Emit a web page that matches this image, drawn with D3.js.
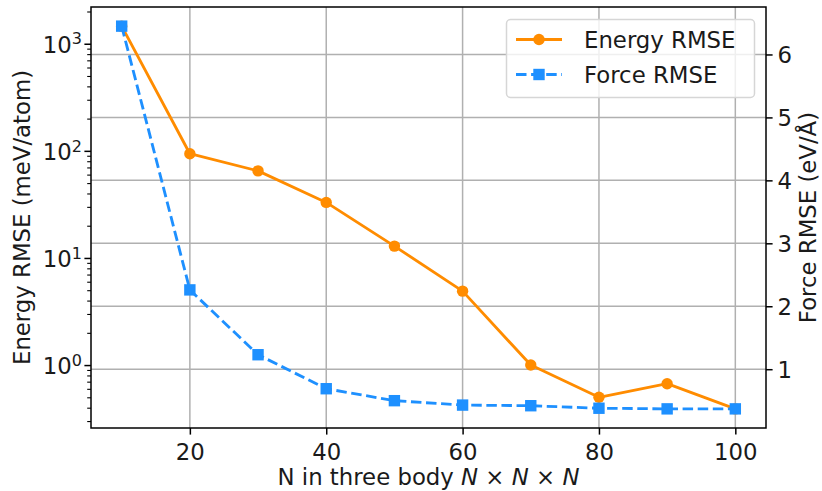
<!DOCTYPE html>
<html><head><meta charset="utf-8">
<script src="https://cdn.jsdelivr.net/npm/d3@7"></script>
<style>
body{margin:0;background:#fff}
svg{display:block;font-family:"DejaVu Sans",sans-serif}
</style>
</head><body>
<svg id="c" width="822" height="491"></svg>
<script>
const nValues = [10, 20, 30, 40, 50, 60, 70, 80, 90, 100];
const energyRMSE = [1460, 94, 65, 33, 12.9, 4.9, 1.0, 0.50, 0.67, 0.39];
const forceRMSE = [6.45, 2.26, 1.23, 0.69, 0.50, 0.43, 0.42, 0.38, 0.37, 0.37];
const xTicks = [20, 40, 60, 80, 100];
const energyTickExps = [0, 1, 2, 3];
const forceTicks = [1, 2, 3, 4, 5, 6];
const seriesNames = ["Energy RMSE", "Force RMSE"];
const xLabel = "N in three body ";
const energyLabel = "Energy RMSE (meV/atom)";
const forceLabel = "Force RMSE (eV/Å)";

const W = 822, H = 491;
const L = 91, R = 766, T = 7, B = 428;
const FS = 22.8;
const orange = "#ff8c00", blue = "#1e90ff";
const svg = d3.select("#c");

// matplotlib-like 5% margins
const xr = d3.extent(nValues), xp = (xr[1]-xr[0])*0.05;
const x = d3.scaleLinear().domain([xr[0]-xp, xr[1]+xp]).range([L, R]);
const le = d3.extent(energyRMSE).map(Math.log10), lp = (le[1]-le[0])*0.05;
const yE = d3.scaleLog().domain([Math.pow(10, le[0]-lp), Math.pow(10, le[1]+lp)]).range([B, T]);
const fe = d3.extent(forceRMSE), fp = (fe[1]-fe[0])*0.05;
const yF = d3.scaleLinear().domain([fe[0]-fp, fe[1]+fp]).range([B, T]);

const grid = svg.append("g").attr("stroke", "#b0b0b0").attr("stroke-width", 1.5);
xTicks.forEach(t => grid.append("line").attr("x1", x(t)).attr("x2", x(t)).attr("y1", T).attr("y2", B));
forceTicks.forEach(t => grid.append("line").attr("x1", L).attr("x2", R).attr("y1", yF(t)).attr("y2", yF(t)));

// axes
const xAxis = d3.axisBottom(x).tickValues(xTicks).tickSize(6.6).tickPadding(6).tickFormat(d3.format("d"));
const gx = svg.append("g").attr("transform", `translate(0,${B})`).call(xAxis);
gx.select(".domain").remove();
gx.selectAll("line").attr("stroke", "#000").attr("stroke-width", 1.5);
gx.selectAll("text").attr("font-size", FS).attr("font-family", "DejaVu Sans").attr("fill", "#1a1a1a").attr("dy", null).attr("y", 31.5);

const majorE = energyTickExps.map(e => Math.pow(10, e));
const minorE = yE.ticks().filter(v => Math.abs(Math.log10(v) - Math.round(Math.log10(v))) > 1e-6);
const gyE = svg.append("g").attr("transform", `translate(${L},0)`)
  .call(d3.axisLeft(yE).tickValues(majorE).tickSize(6.6).tickFormat(""));
gyE.select(".domain").remove();
gyE.selectAll("line").attr("stroke", "#000").attr("stroke-width", 1.5);
const gyEm = svg.append("g").attr("transform", `translate(${L},0)`)
  .call(d3.axisLeft(yE).tickValues(minorE).tickSize(3.8).tickFormat(""));
gyEm.select(".domain").remove();
gyEm.selectAll("line").attr("stroke", "#000").attr("stroke-width", 1.1);
energyTickExps.forEach(e => {
  const t = svg.append("text").attr("x", 82).attr("y", yE(Math.pow(10, e)) + 9.3)
    .attr("text-anchor", "end").attr("font-size", FS).attr("fill", "#1a1a1a");
  t.append("tspan").text("10");
  t.append("tspan").attr("dy", -8.6).attr("font-size", 16).text(String(e));
});

const gyF = svg.append("g").attr("transform", `translate(${R},0)`)
  .call(d3.axisRight(yF).tickValues(forceTicks).tickSize(6.6).tickPadding(5).tickFormat(d3.format("d")));
gyF.select(".domain").remove();
gyF.selectAll("line").attr("stroke", "#000").attr("stroke-width", 1.5);
gyF.selectAll("text").attr("font-size", FS).attr("font-family", "DejaVu Sans").attr("fill", "#1a1a1a").attr("dy", "0.36em");

// lines
const lineE = d3.line().x((d, i) => x(nValues[i])).y(d => yE(d));
const lineF = d3.line().x((d, i) => x(nValues[i])).y(d => yF(d));
svg.append("path").datum(energyRMSE).attr("d", lineE).attr("fill", "none").attr("stroke", orange).attr("stroke-width", 2.85).attr("stroke-linejoin", "round");
svg.append("g").selectAll("circle").data(energyRMSE).join("circle")
  .attr("cx", (d, i) => x(nValues[i])).attr("cy", d => yE(d)).attr("r", 5.7).attr("fill", orange);
svg.append("path").datum(forceRMSE).attr("d", lineF).attr("fill", "none").attr("stroke", blue).attr("stroke-width", 2.85).attr("stroke-dasharray", "10.5,4.6");
svg.append("g").selectAll("rect").data(forceRMSE).join("rect")
  .attr("x", (d, i) => x(nValues[i]) - 5.7).attr("y", d => yF(d) - 5.7).attr("width", 11.4).attr("height", 11.4).attr("fill", blue);

// frame
svg.append("rect").attr("x", L).attr("y", T).attr("width", R-L).attr("height", B-T)
  .attr("fill", "none").attr("stroke", "#000").attr("stroke-width", 1.5);

// axis labels
const xl = svg.append("text").attr("x", (L+R)/2).attr("y", 485).attr("text-anchor", "middle").attr("font-size", FS).attr("fill", "#1a1a1a");
xl.append("tspan").text(xLabel);
xl.append("tspan").attr("font-style", "italic").text("N");
xl.append("tspan").text(" × ");
xl.append("tspan").attr("font-style", "italic").text("N");
xl.append("tspan").text(" × ");
xl.append("tspan").attr("font-style", "italic").text("N");
svg.append("text").attr("transform", `translate(29.5,${(T+B)/2}) rotate(-90)`).attr("text-anchor", "middle")
  .attr("font-size", FS).attr("fill", "#1a1a1a").text(energyLabel);
svg.append("text").attr("transform", `translate(816,${(T+B)/2}) rotate(-90)`).attr("text-anchor", "middle")
  .attr("font-size", FS).attr("fill", "#1a1a1a").text(forceLabel);

// legend
const lg = svg.append("g");
lg.append("rect").attr("x", 506.5).attr("y", 19.5).attr("width", 248).attr("height", 78).attr("rx", 4)
  .attr("fill", "#fff").attr("fill-opacity", 0.8).attr("stroke", "#d6d6d6").attr("stroke-width", 1.5);
const rows = [{name: seriesNames[0], c: orange, y: 39.5, dash: null, shape: "circle"},
              {name: seriesNames[1], c: blue, y: 74.5, dash: "10.5,4.6", shape: "square"}];
rows.forEach(r => {
  lg.append("line").attr("x1", 516).attr("x2", 562).attr("y1", r.y).attr("y2", r.y)
    .attr("stroke", r.c).attr("stroke-width", 2.85).attr("stroke-dasharray", r.dash);
  if (r.shape === "circle") lg.append("circle").attr("cx", 539).attr("cy", r.y).attr("r", 5.7).attr("fill", r.c);
  else lg.append("rect").attr("x", 539-5.7).attr("y", r.y-5.7).attr("width", 11.4).attr("height", 11.4).attr("fill", r.c);
  lg.append("text").attr("x", 584).attr("y", r.y + 8.2).attr("font-size", FS).attr("fill", "#1a1a1a").text(r.name);
});
</script>
</body></html>
